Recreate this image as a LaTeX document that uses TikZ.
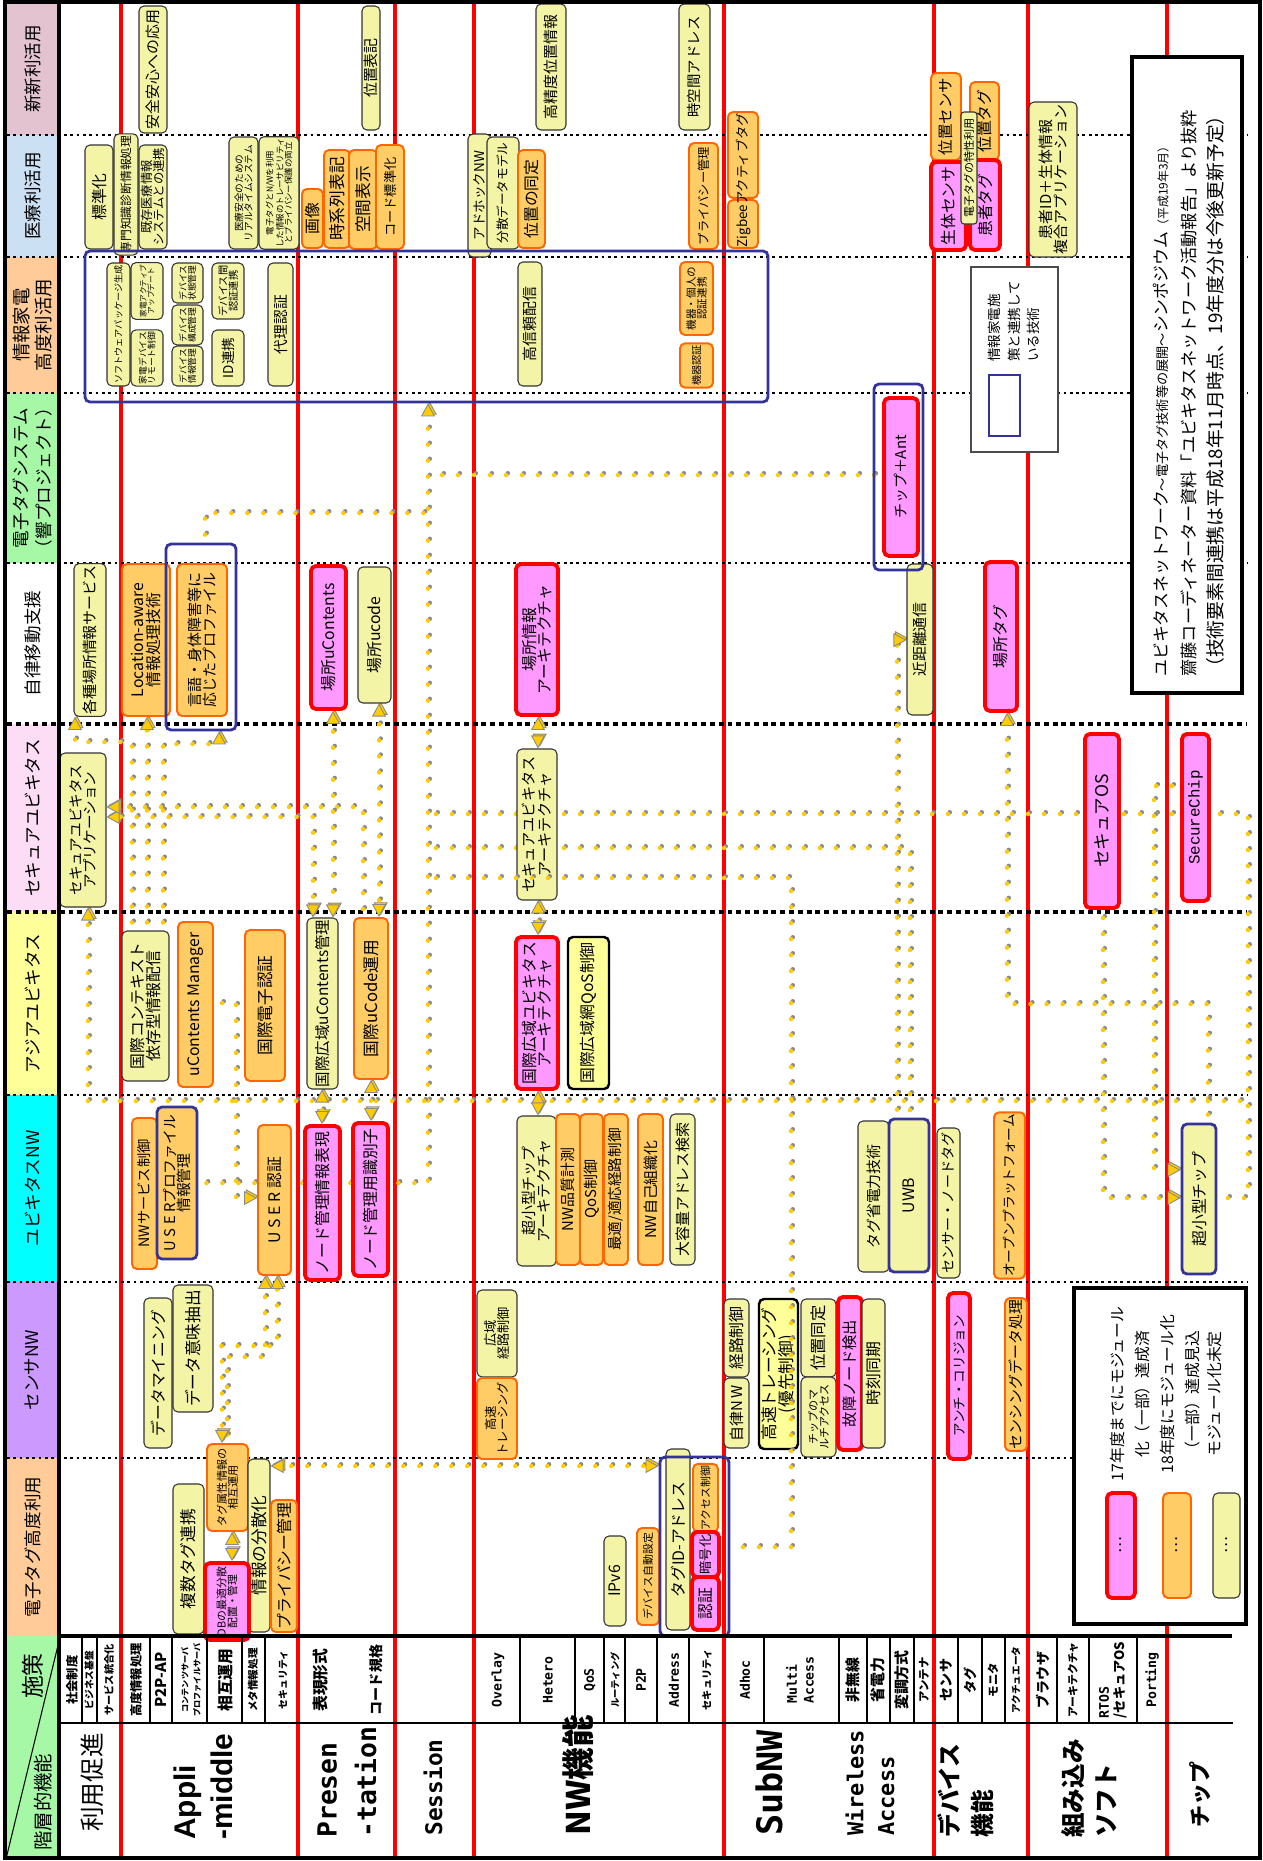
\documentclass[tikz,border=0pt]{standalone}
\usepackage{fontspec}
\setmainfont{Noto Sans CJK JP}
\newfontfamily\appliFont{Liberation Sans}
\newfontfamily\gothicMono{DejaVu Sans Mono}
\newfontfamily\chipMono{Liberation Mono}
\usetikzlibrary{arrows.meta}
\usetikzlibrary{positioning}
\pgfdeclarelayer{back}
\pgfdeclarelayer{links}
\pgfdeclarelayer{front}
\pgfsetlayers{back,links,main,front}

\definecolor{pinkFill}{HTML}{FF99FF}
\definecolor{orangeFill}{HTML}{FFCC66}
\definecolor{orangeLine}{HTML}{FF6600}
\definecolor{yellowFill}{HTML}{F4F4A6}
\definecolor{yellowStrong}{HTML}{FFFF99}
\definecolor{navyLine}{HTML}{333399}
\definecolor{linkYellow}{HTML}{FFCC00}
\definecolor{linkGray}{HTML}{8A8A8A}
\definecolor{catNew}{HTML}{E3C3CF}
\definecolor{catMed}{HTML}{CCE0F4}
\definecolor{catHome}{HTML}{FFCC99}
\definecolor{catTag}{HTML}{A6F7A6}
\definecolor{catSec}{HTML}{FCDDF5}
\definecolor{catAsia}{HTML}{FFFF99}
\definecolor{catUbi}{HTML}{00FFFF}
\definecolor{catSens}{HTML}{CC99FF}

\begin{document}
\begin{tikzpicture}[x=0.2mm, y=-0.2mm]
    % Set styles
    \tikzset{
        cell/.style n args={4}{
                at={({(#1+#3)/2},{(#2+#4)/2})},
                minimum width={(#3-#1)*0.2mm},
                minimum height={(#4-#2)*0.2mm}
            },
        vcell/.style n args={4}{
                at={({(#1+#3)/2},{(#2+#4)/2})},
                rotate=90,
                minimum width={(#4-#2)*0.2mm},
                minimum height={(#3-#1)*0.2mm}
            },
        fsz/.style={font=\fontsize{#1}{#1}\selectfont}
    }
    \tikzset{
        boxBase/.style={
                rounded corners=1mm,
                inner sep=1pt,
                align=center,
                font=\fontsize{9}{9}\selectfont
            }
    }
    \tikzset{
        pinkNode/.style={boxBase, draw=red, fill=pinkFill, line width=2.2pt},
        orangeNode/.style={boxBase, draw=orangeLine, fill=orangeFill, line width=1.1pt},
        yellowNode/.style={boxBase, draw=black!80, fill=yellowFill, line width=0.6pt},
        yellowBold/.style={boxBase, draw=black, fill=yellowStrong, line width=1.4pt},
        navyFrame/.style={draw=navyLine, line width=1.6pt, rounded corners=1mm, inner sep=0pt}
    }
    \tikzset{
        catCell/.style={inner sep=0pt, align=center, font=\fontsize{10}{13}\selectfont},
        subLabel/.style={rotate=90, inner sep=0pt, align=left},
        layerLabel/.style={rotate=90, anchor=west, inner sep=0pt, align=left},
        redRule/.style={draw=red, line width=1.8pt},
        sepDot/.style={line width=1.3pt, dash pattern=on 1.6pt off 2pt},
        sepDash/.style={line width=2.2pt, dash pattern=on 2.8pt off 2.2pt}
    }
    \tikzset{
        yTip/.tip={Triangle[length=2.6mm, width=2.8mm, fill=linkYellow, color=linkGray, line width=0.5pt]},
        linkLine/.style={
                draw=linkYellow, line width=0.9mm, line cap=round,
                dash pattern=on 0pt off 3.2mm, dash phase=1.6mm,
                preaction={draw=linkGray, line width=0.9mm, line cap=round,
                        dash pattern=on 0pt off 3.2mm,
                        transform canvas={shift={(0.35mm,0.35mm)}}}
            },
        arrowEnd/.style={-yTip},
        arrowBoth/.style={yTip-yTip}
    }
    \useasboundingbox (0,0) rectangle (1263,1861);

    % Category column and rules
    \begin{pgfonlayer}{back}
        \node[catCell, fill=catNew, vcell={7}{3}{58}{135}] (catA) {新新利活用};
        \node[catCell, fill=catMed, vcell={7}{135}{58}{257}] (catB) {医療利活用};
        \node[catCell, fill=catHome, vcell={7}{257}{58}{393}, font=\fontsize{10.5}{13}\selectfont] (catC) {情報家電\\高度利活用};
        \node[catCell, fill=catTag, vcell={7}{393}{58}{563}] (catD) {電子タグシステム\\（響プロジェクト）};
        \node[catCell, fill=white, vcell={7}{563}{58}{724}] (catE) {自律移動支援};
        \node[catCell, fill=catSec, vcell={7}{724}{58}{912}] (catF) {セキュアユビキタス};
        \node[catCell, fill=catAsia, vcell={7}{912}{58}{1095}] (catG) {アジアユビキタス};
        \node[catCell, fill=catUbi, vcell={7}{1095}{58}{1282}] (catH) {ユビキタスNW};
        \node[catCell, fill=catSens, vcell={7}{1282}{58}{1458}] (catI) {センサNW};
        \node[catCell, fill=catHome, vcell={7}{1458}{58}{1636}] (catJ) {電子タグ高度利用};
        \node[catCell, fill=catTag, cell={7}{1636}{60}{1856}] (corner) {};
        \draw[line width=0.6pt] (corner.south west) -- (corner.north east);
        \node[rotate=90, inner sep=0pt, font=\fontsize{13}{13}\selectfont] (shisaku) at (33,1676) {施策};
        \node[rotate=90, inner sep=0pt, font=\fontsize{11}{11}\selectfont] (kaiso) at (43,1802) {階層的機能};

        \foreach \x in {121,298,395,474,724,934,1028,1167}
            \draw[redRule] (\x,3) -- (\x,1856);
        \foreach \y in {135,257,393,563,1095}
            \draw[sepDot] (7,\y) -- (1247,\y);
        \foreach \y in {724,912}
            \draw[sepDash] (7,\y) -- (1247,\y);
        \draw[sepDot, line width=1pt] (7,1282) -- (1247,1282);
        \draw[sepDot, line width=0.8pt] (7,1458) -- (1247,1458);
    \end{pgfonlayer}

    % Placing nodes
    \node[yellowNode, vcell={139}{6}{167}{133}, fsz=8.5] (a1) {安全安心への応用};
    \node[yellowNode, vcell={362}{6}{380}{130}, fsz=8.5] (a2) {位置表記};
    \node[yellowNode, vcell={536}{4}{566}{130}, fsz=8.5] (a3) {高精度位置情報};
    \node[yellowNode, vcell={679}{4}{710}{130}, fsz=8.2] (a4) {時空間アドレス};

    \node[yellowNode, vcell={85}{145}{113}{249}, fsz=9] (b1) {標準化};
    \node[yellowNode, vcell={114}{134}{138}{255}, fsz=6.7] (b2) {専門知識診断情報処理};
    \node[yellowNode, vcell={139}{145}{167}{249}, fsz=7] (b3) {既存医療情報\\システムとの連携};
    \node[yellowNode, vcell={229}{137}{258}{249}, fsz=5.5] (b4) {医療安全のための\\リアルタイムシステム};
    \node[yellowNode, vcell={259}{137}{299}{249}, fsz=4.8] (b5) {電子タグとN/Wを利用\\した情報のトレーサビリティ\\とプライバシー保護の両立};
    \node[orangeNode, vcell={302}{189}{323}{248}, fsz=9] (b6) {画像};
    \node[orangeNode, vcell={324}{150}{350}{248}, fsz=9.5] (b7) {時系列表記};
    \node[orangeNode, vcell={349}{150}{377}{249}, fsz=9.5] (b8) {空間表示};
    \node[orangeNode, vcell={376}{145}{404}{249}, fsz=7.5] (b9) {コード標準化};
    \node[yellowNode, vcell={468}{134}{491}{257}, fsz=7.7] (b10) {アドホックNW};
    \node[yellowNode, vcell={487}{137}{519}{249}, fsz=7.2] (b11) {分散データモデル};
    \node[orangeNode, vcell={518}{150}{545}{248}, fsz=9] (b12) {位置の同定};
    \node[orangeNode, vcell={689}{143}{718}{249}, fsz=7] (b13) {プライバシー管理};
    \node[orangeNode, vcell={728}{112}{758}{198}] (b14) {};
    \node[orangeNode, vcell={728}{200}{758}{248}] (b15) {};
    \node[rotate=90, inner sep=0pt, fsz=7.6] (b14t) at (743,180) {Zigbeeアクティブタグ};
    \node[orangeNode, vcell={931}{73}{961}{160}, fsz=8.8] (b16) {位置センサ};
    \node[pinkNode, vcell={931}{162}{966}{250}, fsz=9] (b17) {生体センサ};
    \node[orangeNode, vcell={970}{82}{999}{160}, fsz=9] (b18) {位置タグ};
    \node[pinkNode, vcell={970}{160}{1000}{250}, fsz=9] (b19) {患者タグ};
    \node[yellowNode, vcell={961}{112}{977}{224}, fsz=6.3, rounded corners=0.6mm] (b20) {電子タグの特性利用};
    \node[yellowNode, vcell={1029}{102}{1077}{257}, fsz=8.5] (b21) {患者ID＋生体情報\\複合アプリケーション};

    \node[yellowNode, vcell={107}{263}{130}{386}, fsz=5.2] (c1) {ソフトウェアパッケージ生成};
    \node[yellowNode, vcell={131}{263}{163}{319}, fsz=4.4] (c2) {家電アクティブ\\アップデート};
    \node[yellowNode, vcell={131}{330}{163}{386}, fsz=5] (c3) {家電デバイス\\リモート制御};
    \node[yellowNode, vcell={172}{263}{203}{303}, fsz=5] (c4) {デバイス\\状態管理};
    \node[yellowNode, vcell={172}{305}{203}{345}, fsz=5] (c5) {デバイス\\構成管理};
    \node[yellowNode, vcell={172}{346}{203}{386}, fsz=5] (c6) {デバイス\\情報管理};
    \node[yellowNode, vcell={212}{263}{244}{319}, fsz=5.8] (c7) {デバイス間\\認証連携};
    \node[yellowNode, vcell={212}{330}{244}{386}, fsz=7.7] (c8) {ID連携};
    \node[yellowNode, vcell={268}{263}{293}{386}, fsz=8.4] (c9) {代理認証};
    \node[yellowNode, vcell={518}{262}{542}{386}, fsz=8.5] (c10) {高信頼配信};
    \node[orangeNode, vcell={680}{262}{713}{335}, fsz=6] (c11) {機器・個人の\\認証連携};
    \node[orangeNode, vcell={680}{345}{713}{386}, fsz=5.8] (c12) {機器認証};

    \node[pinkNode, vcell={884}{398}{918}{556}, fsz=8.5] (d1) {チップ＋Ant};

    \node[yellowNode, vcell={74}{564}{106}{716}, fsz=8.5] (e1) {各種場所情報サービス};
    \node[orangeNode, vcell={122}{564}{170}{716}, fsz=9] (e2) {Location-aware\\情報処理技術};
    \node[orangeNode, vcell={177}{564}{227}{716}, fsz=8.5] (e3) {言語・身体障害等に\\応じたプロファイル};
    \node[pinkNode, vcell={311}{566}{346}{709}, fsz=9] (e4) {場所uContents};
    \node[yellowNode, vcell={358}{567}{391}{703}, fsz=9] (e5) {場所ucode};
    \node[pinkNode, vcell={516}{564}{558}{715}, fsz=9] (e6) {場所情報\\アーキテクチャ};
    \node[yellowNode, vcell={907}{564}{933}{715}, fsz=8.5] (e7) {近距離通信};
    \node[pinkNode, vcell={985}{562}{1017}{711}, fsz=9] (e8) {場所タグ};

    \node[yellowNode, vcell={60}{753}{106}{907}, fsz=8.3] (f1) {セキュアユビキタス\\アプリケーション};
    \node[yellowNode, vcell={517}{749}{557}{900}, fsz=8.6] (f2) {セキュアユビキタス\\アーキテクチャ};
    \node[pinkNode, vcell={1085}{734}{1119}{908}, fsz=10] (f3) {セキュアOS};
    \node[pinkNode, vcell={1182}{734}{1209}{901}, font=\chipMono\fontsize{9}{9}\selectfont] (f4) {SecureChip};

    \node[yellowNode, vcell={122}{931}{169}{1081}, fsz=9] (g1) {国際コンテキスト\\依存型情報配信};
    \node[orangeNode, vcell={178}{922}{213}{1087}, fsz=9] (g2) {uContents Manager};
    \node[orangeNode, vcell={245}{930}{285}{1081}, fsz=9.5] (g3) {国際電子認証};
    \node[yellowNode, vcell={307}{918}{338}{1089}, fsz=8.8] (g4) {国際広域uContents管理};
    \node[orangeNode, vcell={354}{918}{388}{1079}, fsz=9.5] (g5) {国際uCode運用};
    \node[pinkNode, vcell={516}{937}{558}{1089}, fsz=9] (g6) {国際広域ユビキタス\\アーキテクチャ};
    \node[yellowBold, vcell={568}{937}{609}{1089}, fsz=9] (g7) {国際広域網QoS制御};

    \node[orangeNode, vcell={132}{1118}{157}{1269}, fsz=8.1] (h1) {NWサービス制御};
    \node[orangeNode, vcell={157}{1107}{197}{1259}, fsz=8.4, draw=navyLine, line width=1.6pt] (h2) {U S E Rプロファイル\\情報管理};
    \node[orangeNode, vcell={258}{1125}{291}{1275}, fsz=9] (h3) {U S E R 認証};
    \node[pinkNode, vcell={305}{1126}{340}{1280}, fsz=9] (h4) {ノード管理情報表現};
    \node[pinkNode, vcell={353}{1123}{388}{1276}, fsz=9] (h5) {ノード管理用識別子};
    \node[yellowNode, vcell={517}{1116}{556}{1266}, fsz=8.5] (h6) {超小型チップ\\アーキテクチャ};
    \node[orangeNode, vcell={556}{1114}{580}{1265}, fsz=8.5] (h7) {NW品質計測};
    \node[orangeNode, vcell={580}{1114}{603}{1265}, fsz=8.5] (h8) {QoS制御};
    \node[orangeNode, vcell={604}{1114}{628}{1265}, fsz=8.3] (h9) {最適/適応経路制御};
    \node[orangeNode, vcell={638}{1114}{663}{1265}, fsz=8.5] (h10) {NW自己組織化};
    \node[yellowNode, vcell={670}{1114}{695}{1265}, fsz=8.5] (h11) {大容量アドレス検索};
    \node[yellowNode, vcell={858}{1121}{889}{1272}, fsz=8.5] (h12) {タグ省電力技術};
    \node[yellowNode, vcell={889}{1119}{929}{1272}, fsz=9, draw=navyLine, line width=1.6pt] (h13) {UWB};
    \node[yellowNode, vcell={937}{1128}{960}{1278}, fsz=8] (h14) {センサー・ノードタグ};
    \node[orangeNode, vcell={994}{1113}{1025}{1278}, fsz=7.8] (h15) {オープンプラットフォーム};
    \node[yellowNode, vcell={1182}{1124}{1216}{1274}, fsz=9, draw=navyLine, line width=1.6pt] (h16) {超小型チップ};

    \node[yellowNode, vcell={144}{1298}{172}{1448}, fsz=9] (i1) {データマイニング};
    \node[yellowNode, vcell={173}{1285}{213}{1412}, fsz=9.5] (i2) {データ意味抽出};
    \node[yellowNode, vcell={477}{1290}{517}{1377}, fsz=7.5] (i3) {広域\\経路制御};
    \node[orangeNode, vcell={477}{1378}{517}{1459}, fsz=7] (i4) {高速\\トレーシング};
    \node[yellowNode, vcell={724}{1299}{749}{1377}, fsz=9] (i5) {経路制御};
    \node[yellowNode, vcell={724}{1378}{749}{1448}, fsz=8.5] (i6) {自律N\,W};
    \node[yellowBold, vcell={759}{1299}{798}{1449}, fsz=9.5] (i7) {高速トレーシング\\(優先制御)};
    \node[yellowNode, vcell={801}{1299}{836}{1377}, fsz=9.3] (i8) {位置同定};
    \node[yellowNode, vcell={801}{1377}{836}{1457}, fsz=6.3] (i9) {チップのマ\\ルチアクセス};
    \node[pinkNode, vcell={838}{1297}{862}{1450}, fsz=8.7] (i10) {故障ノード検出};
    \node[yellowNode, vcell={862}{1299}{885}{1448}, fsz=9] (i11) {時刻同期};
    \node[pinkNode, vcell={948}{1293}{970}{1459}, fsz=7.7] (i12) {アンチ・コリジョン};
    \node[orangeNode, vcell={1005}{1299}{1027}{1450}, fsz=8.5] (i13) {センシングデータ処理};

    \node[orangeNode, vcell={207}{1444}{248}{1531}, fsz=6.3] (j1) {タグ属性情報の\\相互運用};
    \node[yellowNode, vcell={173}{1484}{204}{1634}, fsz=9.5] (j2) {複数タグ連携};
    \node[yellowNode, vcell={248}{1459}{270}{1632}, fsz=9.5] (j4) {情報の分散化};
    \node[pinkNode, vcell={205}{1563}{249}{1640}, fsz=6.2] (j3) {DBの最適分散\\配置・管理};
    \node[orangeNode, vcell={271}{1500}{297}{1632}, fsz=9] (j5) {プライバシー管理};
    \node[yellowNode, vcell={604}{1536}{626}{1626}, fsz=9] (j6) {IPv6};
    \node[orangeNode, vcell={637}{1528}{659}{1625}, fsz=6.2] (j7) {デバイス自動設定};
    \node[yellowNode, vcell={666}{1449}{690}{1630}, fsz=9] (j8) {タグID-アドレス};
    \node[orangeNode, vcell={693}{1464}{718}{1532}, fsz=6.2] (j9) {アクセス制御};
    \node[pinkNode, vcell={692}{1532}{719}{1577}, fsz=7.5] (j10) {暗号化};
    \node[pinkNode, vcell={692}{1577}{719}{1630}, fsz=9] (j11) {認証};

    % Frames of the home appliance work
    \node[navyFrame, cell={85}{251}{768}{402}] (homeFrame) {};
    \node[navyFrame, cell={166}{544}{236}{730}] (langFrame) {};
    \node[navyFrame, cell={874}{384}{923}{570}] (chipAntFrame) {};
    \node[navyFrame, cell={660}{1457}{729}{1636}] (tagFrame) {};

    % Key for the frames
    \node[draw=black!70, fill=white, line width=0.8pt, cell={971}{267}{1058}{452}] (keyBox) {};
    \node[navyFrame, rounded corners=0pt, cell={989}{375}{1020}{436}] (keyFrame) {};
    \node[rotate=90, anchor=north west, align=left, inner sep=0pt, font=\fontsize{7.7}{11}\selectfont] (keyText) at (988,362) {情報家電施\\策と連携して\\いる技術};

    % Title
    \node[draw, fill=white, line width=2.3pt, cell={1132}{57}{1242}{693}] (titleBox) {};
    \node[rotate=90, anchor=north west, align=left, inner sep=0pt, font=\fontsize{9.6}{15.6}\selectfont] (titleText) at (1153,677)
        {ユビキタスネットワーク{\fontsize{7.5}{15.6}\selectfont ～電子タグ技術等の展開～}シンポジウム{\fontsize{6.8}{15.6}\selectfont（平成19年3月）}\\
         {\fontsize{9.8}{15.6}\selectfont 齋藤コーディネーター資料「ユビキタスネットワーク活動報告」より抜粋}\\
         {\fontsize{10.7}{15.6}\selectfont（技術要素間連携は平成18年11月時点、19年度分は今後更新予定）}};

    % Legend
    \node[draw, fill=white, line width=2.3pt, cell={1074}{1288}{1246}{1624}] (legendBox) {};
    \node[pinkNode, vcell={1107}{1493}{1135}{1598}] (legPink) {…};
    \node[orangeNode, vcell={1163}{1493}{1191}{1598}] (legOrange) {…};
    \node[yellowNode, vcell={1213}{1493}{1240}{1598}] (legYellow) {…};
    \node[rotate=90, align=center, inner sep=0pt, font=\fontsize{9}{14}\selectfont] (legPinkText) at (1130,1394) {17年度までにモジュール\\化（一部）達成済};
    \node[rotate=90, align=center, inner sep=0pt, font=\fontsize{9}{14}\selectfont] (legOrangeText) at (1180,1394) {18年度にモジュール化\\（一部）達成見込};
    \node[rotate=90, align=center, inner sep=0pt, font=\fontsize{9}{14}\selectfont] (legYellowText) at (1215,1394) {モジュール化未定};

    % Bottom header
    \draw[line width=2pt] (60,1636) -- (1232,1636);
    \draw[line width=0.6pt] (60,1723) -- (1233,1723);
    \foreach \x in {82,97,150,172,207,242,265,520,575,604,625,657,689,764,839,867,890,914,958,982,1005,1057,1089,1137}
        \draw[line width=0.6pt] (\x,1636) -- (\x,1723);
    \foreach \x/\s/\t [count=\i] in {72/7/社会制度, 89/5.5/ビジネス基盤, 109/5.8/サービス統合化,
            136/7/高度情報処理, 161/8.5/P2P-AP, 226/9/相互運用, 253/6/メタ情報処理, 283/5.6/セキュリティ,
            321/9/表現形式, 376/8/コード規格, 615/5.3/ルーティング, 707/5.8/セキュリティ,
            853/8.5/非無線, 878/8.5/省電力, 902/8.5/変調方式, 924/6.5/アンテナ,
            946/8/センサ, 970/7.5/タグ, 993/6.5/モニタ, 1016/5.5/アクチュエータ,
            1043/8/ブラウザ, 1073/6.2/アーキテクチャ}
        \node[subLabel, font=\bfseries\fontsize{\s}{\s}\selectfont] (sub\i) at (\x,1680) {\t};
    \foreach \x/\t [count=\i] in {498/Overlay, 548/Hetero, 590/QoS, 641/P2P, 674/Address, 745/Adhoc, 1152/Porting}
        \node[subLabel, font=\gothicMono\bfseries\fontsize{7.5}{7.5}\selectfont] (subLatin\i) at (\x,1680) {\t};
    \node[subLabel, align=center, font=\bfseries\fontsize{4.6}{6.8}\selectfont] (subServer) at (191,1680) {コンテンツサーバ\\プロファイルサーバ};
    \node[subLabel, font=\gothicMono\bfseries\fontsize{7.5}{9.5}\selectfont] (subMulti) at (800,1680) {Multi\\Access};
    \node[subLabel, font=\bfseries\fontsize{7.5}{9}\selectfont] (subRtos) at (1113,1680) {{\gothicMono RTOS}\\/セキュアOS};

    \node[layerLabel, font=\fontsize{14}{14}\selectfont] (lyUse) at (92,1832) {利用促進};
    \node[layerLabel, font=\appliFont\bfseries\fontsize{17}{21}\selectfont] (lyApp) at (203,1840) {Appli\\-middle};
    \node[layerLabel, font=\gothicMono\bfseries\fontsize{15}{22.5}\selectfont] (lyPre) at (347,1838) {Presen\\-tation};
    \node[layerLabel, font=\gothicMono\bfseries\fontsize{13}{13}\selectfont] (lySes) at (433,1836) {Session};
    \node[layerLabel, font=\bfseries\fontsize{18.5}{18.5}\selectfont] (lyNW) at (578,1836) {NW機能};
    \node[layerLabel, font=\gothicMono\bfseries\fontsize{20}{20}\selectfont] (lySub) at (769,1836) {SubNW};
    \node[layerLabel, font=\gothicMono\bfseries\fontsize{12.5}{17.5}\selectfont] (lyWir) at (870,1836) {Wireless\\Access};
    \node[layerLabel, font=\bfseries\fontsize{13.5}{19}\selectfont] (lyDev) at (966,1838) {デバイス\\機能};
    \node[layerLabel, font=\bfseries\fontsize{14}{19}\selectfont] (lyEmb) at (1089,1838) {組み込み\\ソフト};
    \node[layerLabel, font=\bfseries\fontsize{12.5}{12.5}\selectfont] (lyChip) at (1200,1828) {チップ};

    % Placing arrows
    \begin{pgfonlayer}{links}
        \draw[linkLine, arrowEnd] (h2.south) -| (homeFrame.south -| 428,0);
        \draw[linkLine] (d1.north |- 0,475) -- (428,475);
        \draw[linkLine] (langFrame.north -| 205,0) |- (428,513);
        \draw[linkLine] (428,814) -- (1248,814) -- (1248,1198) -- (h16.south |- 0,1198);
        \draw[linkLine] (428,848) -| (h13.east -| 910,0);
        \draw[linkLine, arrowEnd] (h13.east -| 897,0) -- (897,640) -- (e7.north |- 0,640);
        \draw[linkLine, arrowEnd] (h16.east -| 1208,0) |- (1007,1004) -- (e8.west -| 1007,0);
        \draw[linkLine, arrowEnd] (f3.west -| 1103,0) |- (h16.north |- 0,1198);
        \draw[linkLine, arrowEnd] (f4.north |- 0,786) -| (1154,1170) -- (h16.north |- 0,1170);
        \draw[linkLine, arrowEnd] (1248,1101) -| (f1.west -| 88,0);
        \draw[linkLine, arrowBoth] (g4.east -| 313,0) |- (f1.south |- 0,817);
        \draw[linkLine, arrowEnd] (g5.east -| 363,0) |- (f1.south |- 0,807);
        \draw[linkLine, arrowBoth] (e4.west -| 333,0) -- (g4.east -| 333,0);
        \draw[linkLine, arrowBoth] (e5.west -| 379,0) -- (g5.east -| 379,0);
        \draw[linkLine, arrowEnd] (g1.east -| 132,0) |- (75,742) -- (e1.west -| 75,0);
        \draw[linkLine, arrowEnd] (g1.east -| 147,0) -- (e2.west -| 147,0);
        \draw[linkLine, arrowEnd] (g1.east -| 163,0) |- (219,744) -- (langFrame.south -| 219,0);
        \draw[linkLine, arrowBoth] (e6.west -| 538,0) -- (f2.east -| 538,0);
        \draw[linkLine, arrowBoth] (f2.west -| 538,0) -- (g6.east -| 538,0);
        \draw[linkLine, arrowBoth] (g6.west -| 538,0) -- (h6.east -| 538,0);
        \draw[linkLine, arrowBoth] (g4.west -| 322,0) -- (h4.east -| 322,0);
        \draw[linkLine, arrowBoth] (g5.west -| 371,0) -- (h5.east -| 371,0);
        \draw[linkLine, arrowEnd] (g2.south |- 0,1003) -| (236,1198) -- (h3.north |- 0,1198);
        \draw[linkLine, arrowEnd] (i2.south |- 0,1346) -| (h3.west -| 277,0);
        \draw[linkLine, arrowEnd] (j1.east -| 227,0) |- (265,1357) -- (h3.west -| 265,0);
        \draw[linkLine, arrowEnd] (i2.south |- 0,1346) -| (j1.east -| 222,0);
        \draw[linkLine, arrowBoth] (j1.west -| 232,0) -- (j3.east -| 232,0);
        \draw[linkLine, arrowBoth] (j4.south |- 0,1466) -- (tagFrame.west |- 0,1466);
    \end{pgfonlayer}
    \begin{pgfonlayer}{front}
        \draw[linkLine] (428,878) -| (791,1547) -- (tagFrame.east |- 0,1547);
        \draw[line width=2.3pt] (5,2) rectangle (1260,1858);
        \draw[line width=2pt] (59,2) -- (59,1858);
    \end{pgfonlayer}
\end{tikzpicture}
\end{document}
